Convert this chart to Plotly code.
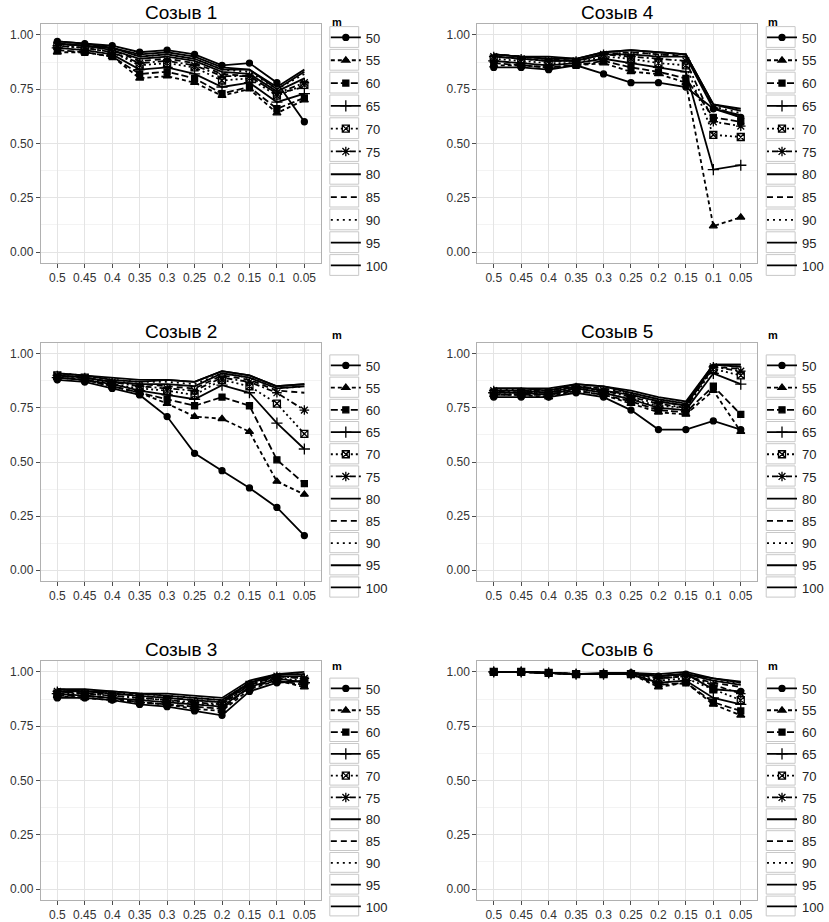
import plotly.graph_objects as go

# ---------------- data ----------------
x_labels = ["0.5", "0.45", "0.4", "0.35", "0.3", "0.25", "0.2", "0.15", "0.1", "0.05"]
m_values = [50, 55, 60, 65, 70, 75, 80, 85, 90, 95, 100]
panel_titles = ["Созыв 1", "Созыв 2", "Созыв 3", "Созыв 4", "Созыв 5", "Созыв 6"]

sozyv1 = {
    50: [0.97, 0.96, 0.95, 0.92, 0.93, 0.91, 0.86, 0.87, 0.78, 0.60],
    55: [0.92, 0.92, 0.90, 0.80, 0.81, 0.78, 0.72, 0.75, 0.64, 0.70],
    60: [0.93, 0.92, 0.90, 0.82, 0.83, 0.80, 0.73, 0.76, 0.66, 0.71],
    65: [0.94, 0.93, 0.91, 0.84, 0.85, 0.82, 0.76, 0.78, 0.69, 0.73],
    70: [0.95, 0.94, 0.92, 0.86, 0.87, 0.85, 0.79, 0.80, 0.72, 0.77],
    75: [0.95, 0.94, 0.92, 0.87, 0.88, 0.86, 0.81, 0.81, 0.73, 0.78],
    80: [0.96, 0.95, 0.93, 0.89, 0.90, 0.88, 0.83, 0.82, 0.74, 0.80],
    85: [0.96, 0.95, 0.93, 0.88, 0.89, 0.87, 0.82, 0.81, 0.73, 0.76],
    90: [0.96, 0.95, 0.94, 0.90, 0.91, 0.89, 0.84, 0.83, 0.75, 0.82],
    95: [0.96, 0.95, 0.94, 0.90, 0.91, 0.89, 0.84, 0.84, 0.75, 0.83],
    100: [0.97, 0.96, 0.94, 0.91, 0.92, 0.90, 0.85, 0.84, 0.76, 0.84],
}
sozyv2 = {
    50: [0.88, 0.87, 0.84, 0.81, 0.71, 0.54, 0.46, 0.38, 0.29, 0.16],
    55: [0.89, 0.88, 0.85, 0.82, 0.77, 0.71, 0.70, 0.64, 0.41, 0.35],
    60: [0.89, 0.88, 0.85, 0.82, 0.79, 0.76, 0.80, 0.76, 0.51, 0.40],
    65: [0.89, 0.88, 0.86, 0.83, 0.81, 0.79, 0.855, 0.82, 0.68, 0.56],
    70: [0.90, 0.89, 0.86, 0.84, 0.83, 0.81, 0.88, 0.85, 0.77, 0.63],
    75: [0.90, 0.89, 0.87, 0.85, 0.84, 0.83, 0.89, 0.87, 0.82, 0.74],
    80: [0.90, 0.89, 0.87, 0.86, 0.86, 0.85, 0.91, 0.89, 0.84, 0.85],
    85: [0.90, 0.89, 0.87, 0.86, 0.85, 0.84, 0.90, 0.88, 0.83, 0.82],
    90: [0.91, 0.90, 0.88, 0.87, 0.87, 0.86, 0.91, 0.89, 0.84, 0.85],
    95: [0.91, 0.90, 0.88, 0.87, 0.88, 0.87, 0.92, 0.90, 0.85, 0.86],
    100: [0.91, 0.90, 0.89, 0.88, 0.88, 0.87, 0.92, 0.90, 0.85, 0.86],
}
sozyv3 = {
    50: [0.88, 0.88, 0.87, 0.85, 0.84, 0.82, 0.80, 0.91, 0.95, 0.96],
    55: [0.89, 0.88, 0.87, 0.86, 0.85, 0.83, 0.82, 0.92, 0.96, 0.93],
    60: [0.89, 0.89, 0.88, 0.86, 0.85, 0.84, 0.83, 0.93, 0.96, 0.94],
    65: [0.90, 0.89, 0.88, 0.87, 0.86, 0.85, 0.84, 0.93, 0.97, 0.95],
    70: [0.90, 0.90, 0.89, 0.88, 0.87, 0.85, 0.85, 0.94, 0.97, 0.96],
    75: [0.91, 0.90, 0.89, 0.88, 0.87, 0.86, 0.85, 0.94, 0.98, 0.97],
    80: [0.91, 0.91, 0.90, 0.89, 0.88, 0.87, 0.86, 0.95, 0.98, 0.98],
    85: [0.91, 0.90, 0.90, 0.89, 0.88, 0.87, 0.86, 0.94, 0.98, 0.97],
    90: [0.92, 0.91, 0.90, 0.90, 0.89, 0.88, 0.87, 0.95, 0.99, 0.99],
    95: [0.92, 0.91, 0.91, 0.90, 0.89, 0.88, 0.87, 0.95, 0.99, 0.99],
    100: [0.92, 0.92, 0.91, 0.90, 0.90, 0.89, 0.88, 0.96, 0.99, 1.00],
}
sozyv4 = {
    50: [0.85, 0.85, 0.84, 0.86, 0.82, 0.78, 0.78, 0.76, 0.66, 0.62],
    55: [0.86, 0.86, 0.85, 0.86, 0.87, 0.83, 0.82, 0.78, 0.12, 0.16],
    60: [0.87, 0.86, 0.85, 0.86, 0.88, 0.85, 0.83, 0.80, 0.62, 0.60],
    65: [0.88, 0.87, 0.86, 0.87, 0.89, 0.87, 0.85, 0.83, 0.38, 0.40],
    70: [0.89, 0.88, 0.87, 0.87, 0.90, 0.89, 0.87, 0.86, 0.54, 0.53],
    75: [0.90, 0.89, 0.88, 0.88, 0.91, 0.90, 0.89, 0.88, 0.60, 0.58],
    80: [0.90, 0.89, 0.88, 0.88, 0.91, 0.91, 0.90, 0.90, 0.66, 0.63],
    85: [0.91, 0.90, 0.89, 0.88, 0.91, 0.92, 0.91, 0.90, 0.67, 0.62],
    90: [0.90, 0.89, 0.88, 0.88, 0.91, 0.92, 0.91, 0.91, 0.67, 0.64],
    95: [0.91, 0.90, 0.89, 0.89, 0.92, 0.93, 0.92, 0.91, 0.68, 0.65],
    100: [0.91, 0.90, 0.90, 0.89, 0.92, 0.93, 0.92, 0.91, 0.68, 0.66],
}
sozyv5 = {
    50: [0.80, 0.80, 0.80, 0.82, 0.80, 0.74, 0.65, 0.65, 0.69, 0.65],
    55: [0.81, 0.81, 0.80, 0.83, 0.81, 0.77, 0.73, 0.72, 0.83, 0.64],
    60: [0.81, 0.81, 0.81, 0.83, 0.81, 0.78, 0.74, 0.73, 0.85, 0.72],
    65: [0.82, 0.82, 0.81, 0.84, 0.82, 0.79, 0.75, 0.74, 0.91, 0.86],
    70: [0.82, 0.82, 0.82, 0.84, 0.82, 0.79, 0.76, 0.75, 0.93, 0.90],
    75: [0.83, 0.82, 0.82, 0.84, 0.83, 0.80, 0.77, 0.75, 0.94, 0.92],
    80: [0.83, 0.83, 0.82, 0.85, 0.83, 0.81, 0.78, 0.76, 0.95, 0.94],
    85: [0.83, 0.83, 0.83, 0.85, 0.84, 0.81, 0.78, 0.76, 0.94, 0.93],
    90: [0.84, 0.83, 0.83, 0.85, 0.84, 0.82, 0.79, 0.77, 0.95, 0.94],
    95: [0.84, 0.84, 0.83, 0.86, 0.85, 0.82, 0.79, 0.77, 0.95, 0.95],
    100: [0.84, 0.84, 0.84, 0.86, 0.85, 0.83, 0.80, 0.78, 0.95, 0.95],
}
sozyv6 = {
    50: [1.00, 1.00, 0.995, 0.99, 0.99, 0.995, 0.98, 0.99, 0.92, 0.91],
    55: [1.00, 1.00, 0.995, 0.99, 0.99, 0.99, 0.93, 0.95, 0.85, 0.80],
    60: [1.00, 1.00, 0.995, 0.99, 0.99, 0.99, 0.94, 0.95, 0.86, 0.82],
    65: [1.00, 1.00, 0.995, 0.99, 0.99, 0.99, 0.95, 0.96, 0.88, 0.85],
    70: [1.00, 1.00, 0.995, 0.99, 0.99, 0.99, 0.96, 0.97, 0.92, 0.87],
    75: [1.00, 1.00, 0.995, 0.99, 0.99, 0.99, 0.97, 0.98, 0.94, 0.90],
    80: [1.00, 1.00, 0.995, 0.99, 0.99, 0.995, 0.98, 0.99, 0.96, 0.94],
    85: [1.00, 1.00, 0.995, 0.99, 0.99, 0.995, 0.97, 0.98, 0.95, 0.93],
    90: [1.00, 1.00, 0.995, 0.99, 0.99, 0.995, 0.98, 0.99, 0.96, 0.95],
    95: [1.00, 1.00, 0.995, 0.99, 0.99, 0.995, 0.98, 0.99, 0.97, 0.95],
    100: [1.00, 1.00, 0.995, 0.99, 0.995, 0.995, 0.99, 1.00, 0.97, 0.955],
}
panels = [sozyv1, sozyv2, sozyv3, sozyv4, sozyv5, sozyv6]

# ---------------- styles ----------------
dashes = {50: "solid", 55: "4px,3px", 60: "7px,3px", 65: "solid", 70: "2px,3px",
          75: "2px,3px,6px,3px", 80: "solid", 85: "6px,4px", 90: "2px,4px",
          95: "solid", 100: "solid"}
markers = {50: ("circle", 6), 55: ("triangle-up", 7), 60: ("square", 6),
           65: ("cross-thin-open", 8), 70: ("square-x-open", 7), 75: ("asterisk-open", 8)}

FONT = "Liberation Sans, Arial, sans-serif"
W, H = 829, 922
col_x = [(41, 322), (479, 760)]
row_y = [(24, 263), (343, 581), (661, 900)]
leg_x_px = [327, 765]
leg_first_center = [37, 365, 688]
leg_step = [22.8, 22.2, 21.8]
leg_title_y = [22, 335, 666]
# panel order: left column rows 1..3 then right column rows 1..3
positions = [(0, 0), (0, 1), (0, 2), (1, 0), (1, 1), (1, 2)]

LABEL_H = 19.9  # plotly legend item height for 13px font

fig = go.Figure()
layout = {}
annotations = []
shapes = []
for p, (data, title, (c, r)) in enumerate(zip(panels, panel_titles, positions), start=1):
    x0, x1 = col_x[c]
    yt, yb = row_y[r]
    xd = [x0 / W, x1 / W]
    yd = [1 - yb / H, 1 - yt / H]
    sfx = "" if p == 1 else str(p)
    axis_common = dict(
        showgrid=True, gridcolor="#E4E4E4", gridwidth=1,
        showline=True, mirror=True, linecolor="#B0B0B0", linewidth=1,
        ticks="outside", ticklen=4, tickcolor="#4D4D4D", tickwidth=1,
        tickfont=dict(family=FONT, size=12, color="#333333"),
        zeroline=False, fixedrange=True,
    )
    layout["xaxis" + sfx] = dict(
        domain=xd, anchor="y" + sfx, type="category", range=[-0.6, 9.6],
        categoryorder="array", categoryarray=x_labels, **axis_common,
    )
    layout["yaxis" + sfx] = dict(
        domain=yd, anchor="x" + sfx, range=[-0.05, 1.05],
        tickmode="linear", tick0=0, dtick=0.25, tickformat=".2f",
        minor=dict(showgrid=True, gridcolor="#F3F3F3", tick0=0, dtick=0.125, ticks=""),
        **axis_common,
    )
    annotations.append(dict(
        text=title, x=(x0 + x1) / 2 / W, y=1 - (yt + 1) / H, xref="paper", yref="paper",
        xanchor="center", yanchor="bottom", showarrow=False,
        font=dict(family=FONT, size=19, color="black"),
    ))
    lx = leg_x_px[c]
    first = leg_first_center[r]
    step = leg_step[r]
    # legend title "m"
    annotations.append(dict(
        text="<b>m</b>", x=(lx + 4) / W, y=1 - leg_title_y[r] / H, xref="paper", yref="paper",
        xanchor="left", yanchor="middle", showarrow=False,
        font=dict(family=FONT, size=11, color="black"),
    ))
    leg_name = "legend" + sfx
    layout[leg_name] = dict(
        x=lx / W, y=1 - (first - 14.5) / H, xanchor="left", yanchor="top",
        font=dict(family=FONT, size=13, color="#222222"),
        traceorder="grouped", tracegroupgap=step - LABEL_H, itemwidth=30,
        bgcolor="rgba(0,0,0,0)", borderwidth=0,
    )
    for i in range(len(m_values)):
        cy = first + i * step
        shapes.append(dict(
            type="rect", xref="paper", yref="paper",
            x0=(lx + 4) / W, x1=(lx + 33) / W,
            y0=1 - (cy - step / 2 + 1) / H, y1=1 - (cy + step / 2 - 1) / H,
            line=dict(color="#C8C8C8", width=1), fillcolor="white", layer="below",
        ))
    for m in m_values:
        y = data[m]
        tr = dict(
            x=x_labels, y=y, name=str(m), xaxis="x" + sfx, yaxis="y" + sfx,
            legend=leg_name, legendgroup=f"p{p}m{m}",
            line=dict(color="black", width=1.8, dash=dashes[m]),
            hoverinfo="skip",
        )
        if m in markers:
            sym, sz = markers[m]
            tr["mode"] = "lines+markers"
            tr["marker"] = dict(symbol=sym, size=sz, color="black",
                                line=dict(color="black", width=1.3))
        else:
            tr["mode"] = "lines"
        fig.add_trace(go.Scatter(**tr))

fig.update_layout(
    width=W, height=H, margin=dict(l=0, r=0, t=0, b=0),
    paper_bgcolor="white", plot_bgcolor="white",
    annotations=annotations, shapes=shapes, **layout,
)
fig.write_html("out.html", config={"displayModeBar": False},
               post_script="document.body.style.margin='0';")
